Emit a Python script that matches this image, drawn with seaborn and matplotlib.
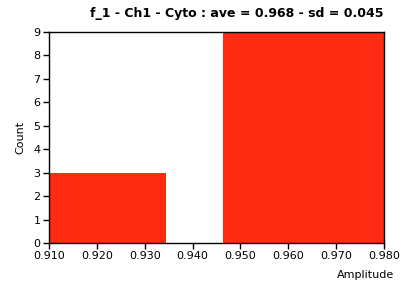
import matplotlib
matplotlib.use("Agg")
import matplotlib.pyplot as plt
import seaborn as sns
import numpy as np

bin_edges = [0.910, 0.9344, 0.9464, 0.980]
counts = [3, 0, 9]
x_ticks = [0.910, 0.920, 0.930, 0.940, 0.950, 0.960, 0.970, 0.980]
x_tick_labels = ["0.910", "0.920", "0.930", "0.940", "0.950", "0.960", "0.970", "0.980"]
y_ticks = list(range(0, 10))
title = "f_1 - Ch1 - Cyto : ave = 0.968 - sd = 0.045"

sns.set_style("white")
plt.rcParams['font.family'] = ['DejaVu Sans']
plt.rcParams['text.color'] = 'black'
plt.rcParams['axes.labelcolor'] = 'black'
plt.rcParams['xtick.color'] = 'black'
plt.rcParams['ytick.color'] = 'black'

centers = [(a + b) / 2 for a, b in zip(bin_edges[:-1], bin_edges[1:])]

fig = plt.figure(figsize=(4.08, 2.87), dpi=100)
ax = fig.add_axes([49/408, 1 - 243/287, (384-49)/408, (243-32)/287])
sns.histplot(x=centers, weights=counts, bins=bin_edges, ax=ax,
             color="#FF2A12", alpha=1, edgecolor="none", linewidth=0)
ax.set_xlim(0.910, 0.980)
ax.set_ylim(0, 9)
ax.set_xticks(x_ticks)
ax.set_xticklabels(x_tick_labels)
ax.set_yticks(y_ticks)
ax.tick_params(axis="both", direction="out", length=4, width=1, colors="black",
               labelsize=8, pad=2, bottom=True, left=True)
for s in ax.spines.values():
    s.set_color("black")
    s.set_linewidth(1)
ax.set_ylabel("Count", fontsize=8, labelpad=6, color="black")
ax.set_xlabel("Amplitude", fontsize=8, color="black")
ax.xaxis.set_label_coords(1.03, -0.13, transform=ax.transAxes)
ax.xaxis.label.set_horizontalalignment("right")
fig.text(383/408, 1 - 13/287, title, ha="right", va="center",
         fontsize=9, fontweight="bold", color="black")
fig.savefig("out.png", dpi=100)
